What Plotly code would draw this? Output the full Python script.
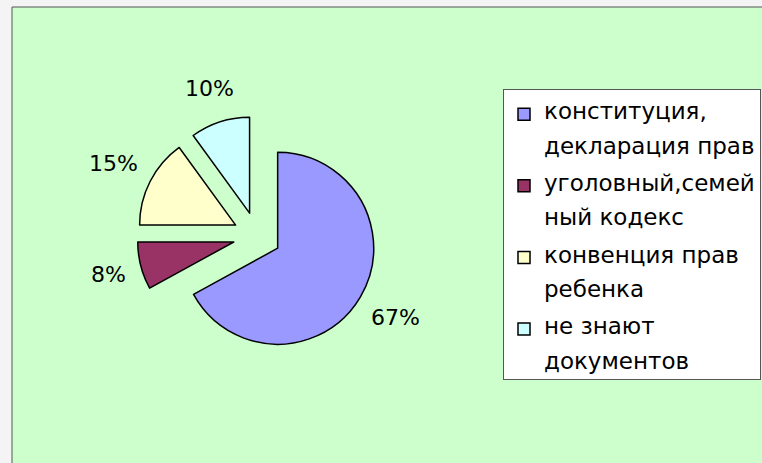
import math
import plotly.graph_objects as go

# ---- data ----
categories = [["конституция,", "декларация прав"],
              ["уголовный,семей", "ный кодекс"],
              ["конвенция прав", "ребенка"],
              ["не знают", "документов"]]
values = [67, 8, 15, 10]
colors = ["#9999FF", "#993366", "#FFFFCC", "#CCFFFF"]

W, H = 762, 463
FONT = "DejaVu Sans"
LEG_FS = 23      # legend text size
BASE_FS = 13.2   # legend line pitch size (two pitches per text line)

# pie geometry in pixels
cx, cy, R, pull = 257, 236, 96, 0.25
half = R * (1 + pull)


def px(x):
    return x / W


def py(y):
    return 1 - y / H


# legend names: text lines spaced by two base lines, items separated by a blank line
names = []
for i, lines in enumerate(categories):
    parts = [f"<span style='font-size:{LEG_FS}px'>{t}</span>" for t in lines]
    nm = "<br><br>".join(parts)
    if i < len(categories) - 1:
        nm += "<br>"
    names.append(nm)

fig = go.Figure()
fig.add_trace(go.Pie(
    labels=names,
    values=values,
    sort=False,
    direction="clockwise",
    rotation=0,
    pull=[pull] * len(values),
    marker=dict(colors=colors, line=dict(color="#000000", width=1.5)),
    textinfo="none",
    domain=dict(x=[px(cx - half), px(cx + half)],
                y=[py(cy + half), py(cy - half)]),
    hovertemplate="%{label}<br>%{percent}<extra></extra>",
))

# percentage labels placed outside each slice, along its mid angle
total = sum(values)
LBL_FS = 22
D0 = 138
annotations = []
cum = 0
for v in values:
    mid = (cum + v / 2) / total * 2 * math.pi
    cum += v
    dx, dy = math.sin(mid), -math.cos(mid)
    txt = f"{round(v / total * 100)}%"
    w = len(txt) * 0.6 * LBL_FS
    h = LBL_FS
    k = abs(dx) * w / 2 + abs(dy) * h / 2
    d = D0 + k
    annotations.append(dict(
        x=px(cx + dx * d), y=py(cy + dy * d), xref="paper", yref="paper",
        text=txt, showarrow=False, xanchor="center", yanchor="middle",
        font=dict(family=FONT, size=LBL_FS, color="#000000"),
    ))

fig.update_layout(
    width=W, height=H,
    margin=dict(l=0, r=0, t=0, b=0, autoexpand=False),
    paper_bgcolor="#F4F4F4",
    font=dict(family=FONT, size=BASE_FS, color="#000000"),
    showlegend=True,
    legend=dict(
        x=px(503), xanchor="left",
        y=py(89), yanchor="top",
        bgcolor="#FFFFFF",
        bordercolor="#555555", borderwidth=1,
        font=dict(family=FONT, size=BASE_FS, color="#000000"),
        title=dict(text=" ", font=dict(size=7)),
        valign="top",
        entrywidth=240, entrywidthmode="pixels",
    ),
    annotations=annotations,
    shapes=[dict(
        type="rect", xref="paper", yref="paper",
        x0=px(12), x1=1.02, y0=-0.02, y1=py(7),
        fillcolor="#CCFFCC", line=dict(color="#555555", width=1),
        layer="below",
    )],
)

fig.write_html("out.html", config={"displayModeBar": False},
               post_script="document.body.style.margin='0';")
